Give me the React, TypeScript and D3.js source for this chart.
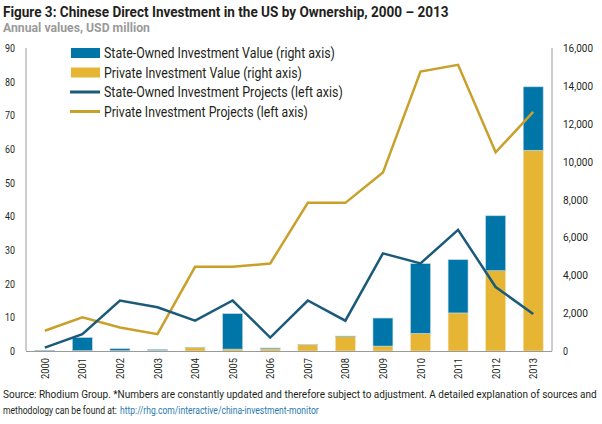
import React, { useLayoutEffect, useRef, useState } from "react";
import * as d3 from "d3";

const years = ["2000","2001","2002","2003","2004","2005","2006","2007","2008","2009","2010","2011","2012","2013"];
const privateValue = [20, 20, 20, 40, 190, 100, 110, 330, 760, 260, 930, 2010, 4240, 10600];
const stateValue = [20, 690, 100, 40, 10, 1870, 50, 20, 30, 1480, 3680, 2810, 2900, 3350];
const stateProjects = [1, 5, 15, 13, 9, 15, 4, 15, 9, 29, 26, 36, 19, 11];
const privateProjects = [6, 10, 7, 5, 25, 25, 26, 44, 44, 53, 83, 85, 59, 71];
const leftTicks = [0, 10, 20, 30, 40, 50, 60, 70, 80, 90];
const rightTicks = [0, 2000, 4000, 6000, 8000, 10000, 12000, 14000, 16000];

const FONT = "'Liberation Sans Narrow', 'Roboto', 'Arial Narrow', sans-serif";
const C_STATE_BAR = "#0076a8";
const C_PRIV_BAR = "#e6b533";
const C_STATE_LINE = "#1b5a7a";
const C_PRIV_LINE = "#c8a02a";

type FitProps = {
  x: number; y: number; len: number; anchor?: "start" | "end"; rotate?: number;
  size: number; weight?: string; fill: string; children: string;
};

function FitText({ x, y, len, anchor = "start", rotate = 0, size, weight, fill, children }: FitProps) {
  const ref = useRef<SVGTextElement>(null);
  const [k, setK] = useState(1);
  useLayoutEffect(() => {
    if (ref.current) {
      const w = ref.current.getComputedTextLength();
      if (w > 0) setK(len / w);
    }
  }, [len, children, size]);
  return (
    <g transform={`translate(${x},${y}) rotate(${rotate}) scale(${k},1)`}>
      <text ref={ref} x={0} y={0} fontSize={size} fontWeight={weight} fill={fill} textAnchor={anchor}>{children}</text>
    </g>
  );
}

export default function App() {
  const W = 602, H = 424;
  const x0 = 26, x1 = 552, yTop = 48, yBot = 351;
  const x = d3.scaleBand<string>().domain(years).range([x0, x1]).paddingInner(0.47).paddingOuter(0.235);
  const yL = d3.scaleLinear().domain([0, 90]).range([yBot, yTop]);
  const yR = d3.scaleLinear().domain([0, 16000]).range([yBot, yTop]);
  const cx = (y: string) => (x(y) as number) + x.bandwidth() / 2;
  const lineL = d3.line<number>().x((_, i) => cx(years[i])).y((d) => yL(d));
  const fmt = d3.format(",");

  const legend = [
    { label: "State-Owned Investment Value (right axis)", type: "rect", color: C_STATE_BAR, len: 231 },
    { label: "Private Investment Value (right axis)", type: "rect", color: C_PRIV_BAR, len: 198 },
    { label: "State-Owned Investment Projects (left axis)", type: "line", color: C_STATE_LINE, len: 239 },
    { label: "Private Investment Projects (left axis)", type: "line", color: C_PRIV_LINE, len: 204 },
  ];

  return (
    <svg width={W} height={H} style={{ position: "absolute", left: 0, top: 0, background: "#fff" }} fontFamily={FONT}>
      <FitText x={3} y={17} len={446} size={15} weight="bold" fill="#231f20">
        Figure 3: Chinese Direct Investment in the US by Ownership, 2000 – 2013
      </FitText>
      <FitText x={3} y={32} len={147} size={12.5} weight="bold" fill="#9a9a9a">
        Annual values, USD million
      </FitText>

      {/* bars */}
      {years.map((yr, i) => {
        const p = privateValue[i];
        const s = stateValue[i];
        return (
          <g key={yr}>
            <rect x={x(yr)} y={yR(p)} width={x.bandwidth()} height={yR(0) - yR(p)} fill={C_PRIV_BAR} stroke="#f3e3b8" strokeWidth={0.6} />
            <rect x={x(yr)} y={yR(p + s)} width={x.bandwidth()} height={yR(p) - yR(p + s)} fill={C_STATE_BAR} stroke="#b9d4e3" strokeWidth={0.6} />
          </g>
        );
      })}

      {/* axes */}
      <line x1={x0} x2={x0} y1={yTop} y2={yBot} stroke="#9a9a9a" strokeWidth={1} />
      <line x1={x1} x2={x1} y1={yTop} y2={yBot} stroke="#9a9a9a" strokeWidth={1} />
      <line x1={x0} x2={x1} y1={yBot + 0.5} y2={yBot + 0.5} stroke="#9a9a9a" strokeWidth={1} />

      {/* lines */}
      <path d={lineL(privateProjects) || ""} fill="none" stroke={C_PRIV_LINE} strokeWidth={2.5} />
      <path d={lineL(stateProjects) || ""} fill="none" stroke={C_STATE_LINE} strokeWidth={2.5} />

      {/* left ticks */}
      {leftTicks.map((t) => (
        <FitText key={t} x={15} y={yL(t) + 4} size={11} anchor="end" fill="#231f20" len={t === 0 ? 5 : 10}>{String(t)}</FitText>
      ))}
      {/* right ticks */}
      {rightTicks.map((t) => (
        <FitText key={t} x={563} y={yR(t) + 4} size={11} fill="#231f20" len={t === 0 ? 5 : t < 10000 ? 25 : 30}>{fmt(t)}</FitText>
      ))}
      {/* x ticks */}
      {years.map((yr) => (
        <FitText key={yr} x={cx(yr) + 4} y={358} rotate={-90} size={11} anchor="end" fill="#231f20" len={21}>{yr}</FitText>
      ))}

      {/* legend */}
      {legend.map((l, i) => {
        const yc = 53 + i * 19.5;
        return (
          <g key={l.label}>
            {l.type === "rect" ? (
              <rect x={71} y={yc - 5} width={29} height={10} fill={l.color} />
            ) : (
              <line x1={70} x2={100} y1={yc} y2={yc} stroke={l.color} strokeWidth={3} />
            )}
            <FitText x={104} y={yc + 5} size={14} fill="#231f20" len={l.len}>{l.label}</FitText>
          </g>
        );
      })}

      {/* footer */}
      <FitText x={3} y={398} size={11} fill="#231f20" len={594}>
        Source: Rhodium Group. *Numbers are constantly updated and therefore subject to adjustment. A detailed explanation of sources and
      </FitText>
      <FitText x={3} y={414} size={11} fill="#231f20" len={114}>methodology can be found at:</FitText>
      <FitText x={120} y={414} size={11} fill="#2a7ab0" len={199}>http://rhg.com/interactive/china-investment-monitor</FitText>
    </svg>
  );
}
